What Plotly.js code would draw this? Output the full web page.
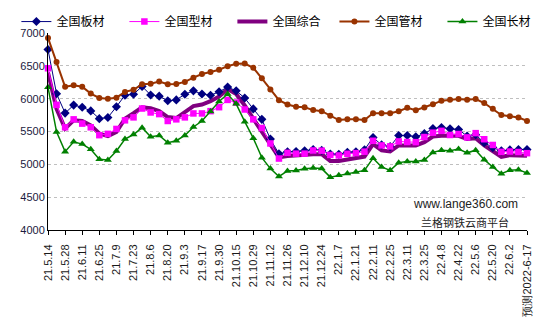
<!DOCTYPE html>
<html>
<head>
<meta charset="utf-8">
<script src="https://cdn.plot.ly/plotly-3.0.1.min.js"></script>
<style>
html,body{margin:0;padding:0;background:#fff;}
#chart{width:549px;height:321px;}
</style>
</head>
<body>
<div id="chart"></div>
<script>
const dates = ['21.5.14','21.5.21','21.5.28','21.6.4','21.6.11','21.6.18','21.6.25','21.7.2','21.7.9','21.7.16',
 '21.7.23','21.7.30','21.8.6','21.8.13','21.8.20','21.8.27','21.9.3','21.9.10','21.9.17','21.9.24',
 '21.9.30','21.10.8','21.10.15','21.10.22','21.10.29','21.11.5','21.11.12','21.11.19','21.11.26','21.12.3',
 '21.12.10','21.12.17','21.12.24','21.12.31','22.1.7','22.1.14','22.1.21','22.1.28','22.2.11','22.2.18',
 '22.2.25','22.3.4','22.3.11','22.3.18','22.3.25','22.4.1','22.4.8','22.4.15','22.4.22','22.4.29',
 '22.5.6','22.5.13','22.5.20','22.5.27','22.6.2','22.6.10','预测2022-6-17'];

const plate = [6748, 6075, 5780, 5902, 5870, 5814, 5696, 5714, 5877, 6053,
 6068, 6187, 6056, 6038, 5968, 5981, 6068, 6119, 6071, 6053,
 6104, 6177, 6119, 6010, 5844, 5685, 5384, 5160, 5190, 5195,
 5205, 5225, 5212, 5158, 5152, 5185, 5192, 5222, 5409, 5296,
 5270, 5439, 5439, 5420, 5467, 5545, 5560, 5540, 5530, 5430,
 5450, 5330, 5255, 5205, 5220, 5225, 5225];

const section = [6463, 5906, 5564, 5685, 5620, 5564, 5444, 5464, 5539, 5670,
 5715, 5850, 5790, 5765, 5660, 5685, 5715, 5775, 5775, 5810,
 5870, 5981, 5941, 5835, 5685, 5554, 5318, 5088, 5175, 5163,
 5163, 5211, 5208, 5143, 5135, 5161, 5171, 5193, 5359, 5288,
 5273, 5349, 5340, 5338, 5416, 5482, 5510, 5447, 5462, 5410,
 5475, 5382, 5295, 5190, 5195, 5188, 5170];

const composite = [6398, 5845, 5544, 5670, 5660, 5594, 5469, 5429, 5494, 5695,
 5780, 5870, 5855, 5810, 5720, 5705, 5795, 5886, 5911, 5961,
 6031, 6147, 6071, 5896, 5695, 5494, 5300, 5105, 5125, 5140,
 5140, 5155, 5155, 5052, 5052, 5073, 5098, 5118, 5308, 5212,
 5197, 5288, 5288, 5288, 5338, 5424, 5435, 5435, 5435, 5385,
 5397, 5290, 5195, 5115, 5140, 5140, 5130];

const pipe = [6925, 6558, 6180, 6205, 6182, 6078, 6010, 5997, 6015, 6103,
 6136, 6220, 6228, 6260, 6220, 6225, 6255, 6320, 6375, 6405,
 6440, 6495, 6530, 6535, 6470, 6310, 6140, 5976, 5912, 5878,
 5868, 5826, 5809, 5738, 5674, 5686, 5688, 5674, 5779, 5779,
 5779, 5809, 5860, 5823, 5864, 5914, 5970, 5985, 5995, 5985,
 5995, 5934, 5848, 5752, 5732, 5712, 5661];

const longp = [6172, 5494, 5193, 5343, 5308, 5228, 5077, 5067, 5203, 5384,
 5454, 5559, 5419, 5439, 5330, 5359, 5439, 5569, 5660, 5805,
 5956, 6071, 5921, 5650, 5399, 5102, 4935, 4815, 4900, 4905,
 4932, 4945, 4935, 4805, 4833, 4862, 4885, 4908, 5094, 4960,
 4908, 5026, 5043, 5045, 5066, 5182, 5215, 5208, 5233, 5175,
 5215, 5071, 4960, 4857, 4909, 4919, 4868];

const names = ['全国板材','全国型材','全国综合','全国管材','全国长材'];
const yTicks = [4000, 4500, 5000, 5500, 6000, 6500, 7000];

const traces = [
  {name: names[2], y: composite, legend: 'legend', legendrank: 3, mode: 'lines',
   line: {color: '#800080', width: 4}},
  {name: names[0], y: plate, legend: 'legend', legendrank: 1, mode: 'lines+markers',
   line: {color: '#000080', width: 1}, marker: {symbol: 'diamond', size: 7, color: '#000080'}},
  {name: names[1], y: section, legend: 'legend', legendrank: 2, mode: 'lines+markers',
   line: {color: '#FF00FF', width: 1}, marker: {symbol: 'square', size: 6.5, color: '#FF00FF'}},
  {name: names[3], y: pipe, legend: 'legend2', legendrank: 4, mode: 'lines+markers',
   line: {color: '#993300', width: 2}, marker: {symbol: 'circle', size: 6, color: '#993300'}},
  {name: names[4], y: longp, legend: 'legend2', legendrank: 5, mode: 'lines+markers',
   line: {color: '#008000', width: 1.5}, marker: {symbol: 'triangle-up', size: 7, color: '#008000'}}
].map(t => Object.assign({x: dates, type: 'scatter', cliponaxis: false}, t));

const legendBase = {orientation: 'h', xanchor: 'left', y: 1.058, yanchor: 'middle',
  font: {family: 'Noto Sans CJK SC, sans-serif', size: 12, color: '#000'},
  entrywidth: 63, entrywidthmode: 'pixels', itemwidth: 30, bgcolor: 'rgba(0,0,0,0)',
  traceorder: 'normal'};

const layout = {
  width: 549, height: 321,
  margin: {l: 48, r: 22, t: 33, b: 91, pad: 0, autoexpand: false},
  paper_bgcolor: '#fff', plot_bgcolor: '#fff',
  font: {family: 'Liberation Sans, Arial, sans-serif', size: 11, color: '#1a1a1a'},
  showlegend: true,
  legend: Object.assign({}, legendBase, {x: -0.066}),
  legend2: Object.assign({}, legendBase, {x: 0.598}),
  xaxis: {type: 'category', range: [0, dates.length - 1], tickmode: 'linear', tick0: 0, dtick: 2,
    tickangle: -90, ticks: 'outside', ticklen: 4, tickcolor: '#000', tickwidth: 1,
    ticklabelstandoff: 5, automargin: false,
    showline: true, linecolor: '#000', linewidth: 1, showgrid: false, zeroline: false,
    tickfont: {family: 'Liberation Sans, Arial, sans-serif', size: 11, color: '#1a1a1a'}},
  yaxis: {range: [4000, 7000], tickvals: yTicks, ticktext: yTicks.map(String), ticks: '',
    automargin: false,
    showline: true, linecolor: '#000', linewidth: 1, zeroline: false,
    showgrid: true, gridcolor: '#bfbfbf', griddash: '3px,3px', gridwidth: 1,
    tickfont: {family: 'Liberation Sans, Arial, sans-serif', size: 11, color: '#1a1a40'}},
  annotations: [
    {text: 'www.lange360.com', xref: 'paper', yref: 'paper', x: 0.871, y: 0.132,
     xanchor: 'center', yanchor: 'middle',
     showarrow: false, font: {family: 'Liberation Sans, Arial, sans-serif', size: 12, color: '#222'}},
    {text: '兰格钢铁云商平台', xref: 'paper', yref: 'paper', x: 0.871, y: 0.041,
     xanchor: 'center', yanchor: 'middle',
     showarrow: false, font: {family: 'Noto Sans CJK SC, sans-serif', size: 11, color: '#222'}}
  ]
};

Plotly.newPlot('chart', traces, layout, {displayModeBar: false, staticPlot: true});
</script>
</body>
</html>
